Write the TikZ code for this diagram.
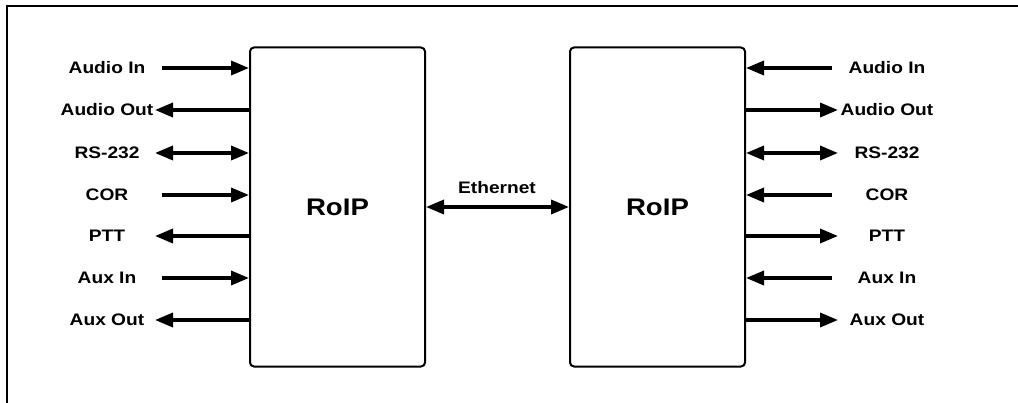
\documentclass[tikz,border=0pt]{standalone}
\usepackage{fontspec}
\setmainfont{Liberation Sans}[FakeStretch=1.15]
\usetikzlibrary{arrows.meta}
\begin{document}
\begin{tikzpicture}[x=0.75pt,y=-0.75pt,
  sig/.style={line width=2.6pt,linecolor},
  westin/.style={sig,-{Triangle[length=13.5pt,width=10.5pt]}},
  westout/.style={sig,{Triangle[length=13.5pt,width=10.5pt]}-},
  westboth/.style={sig,{Triangle[length=13.5pt,width=10.5pt]}-{Triangle[length=13.5pt,width=10.5pt]}},
  eastin/.style={westout},
  eastout/.style={westin},
  eastboth/.style={westboth},
  lab/.style={font=\bfseries\fontsize{12.5}{14}\selectfont,inner sep=0pt},
  unit/.style={draw=linecolor,rounded corners=3pt,line width=1.5pt,minimum width=131.25pt,minimum height=239.25pt,font=\bfseries\fontsize{18}{20}\selectfont}]
\definecolor{linecolor}{HTML}{000000}
\useasboundingbox (0,0) rectangle (1018,403);
\draw[linecolor,line width=1.5pt] (7,403) -- (7,6) -- (1018,6);
\node[unit] (roipA) at (337.5,207) {RoIP};
\node[unit] (roipB) at (657.5,207) {RoIP};
\node[lab] (eth) at (497,188) {Ethernet};
\draw[westboth] (roipA.east) -- (roipB.west);
\foreach \i/\txt/\y/\dir/\lx/\rx in {1/Audio In/68/in/162/832,2/Audio Out/110/out/155/838,3/RS-232/153/both/155/838,4/COR/195/in/162/832,5/PTT/236/out/155/838,6/Aux In/278/in/162/832,7/Aux Out/320/out/155/838}{
  \node[lab] (lt\i) at (107,\y) {\txt};
  \node[lab] (rt\i) at (887,\y) {\txt};
  \coordinate (la\i) at (\lx,\y);
  \coordinate (ra\i) at (\rx,\y);
  \draw[west\dir] (la\i) -- (roipA.west |- la\i);
  \draw[east\dir] (roipB.east |- ra\i) -- (ra\i);
}
\end{tikzpicture}
\end{document}
